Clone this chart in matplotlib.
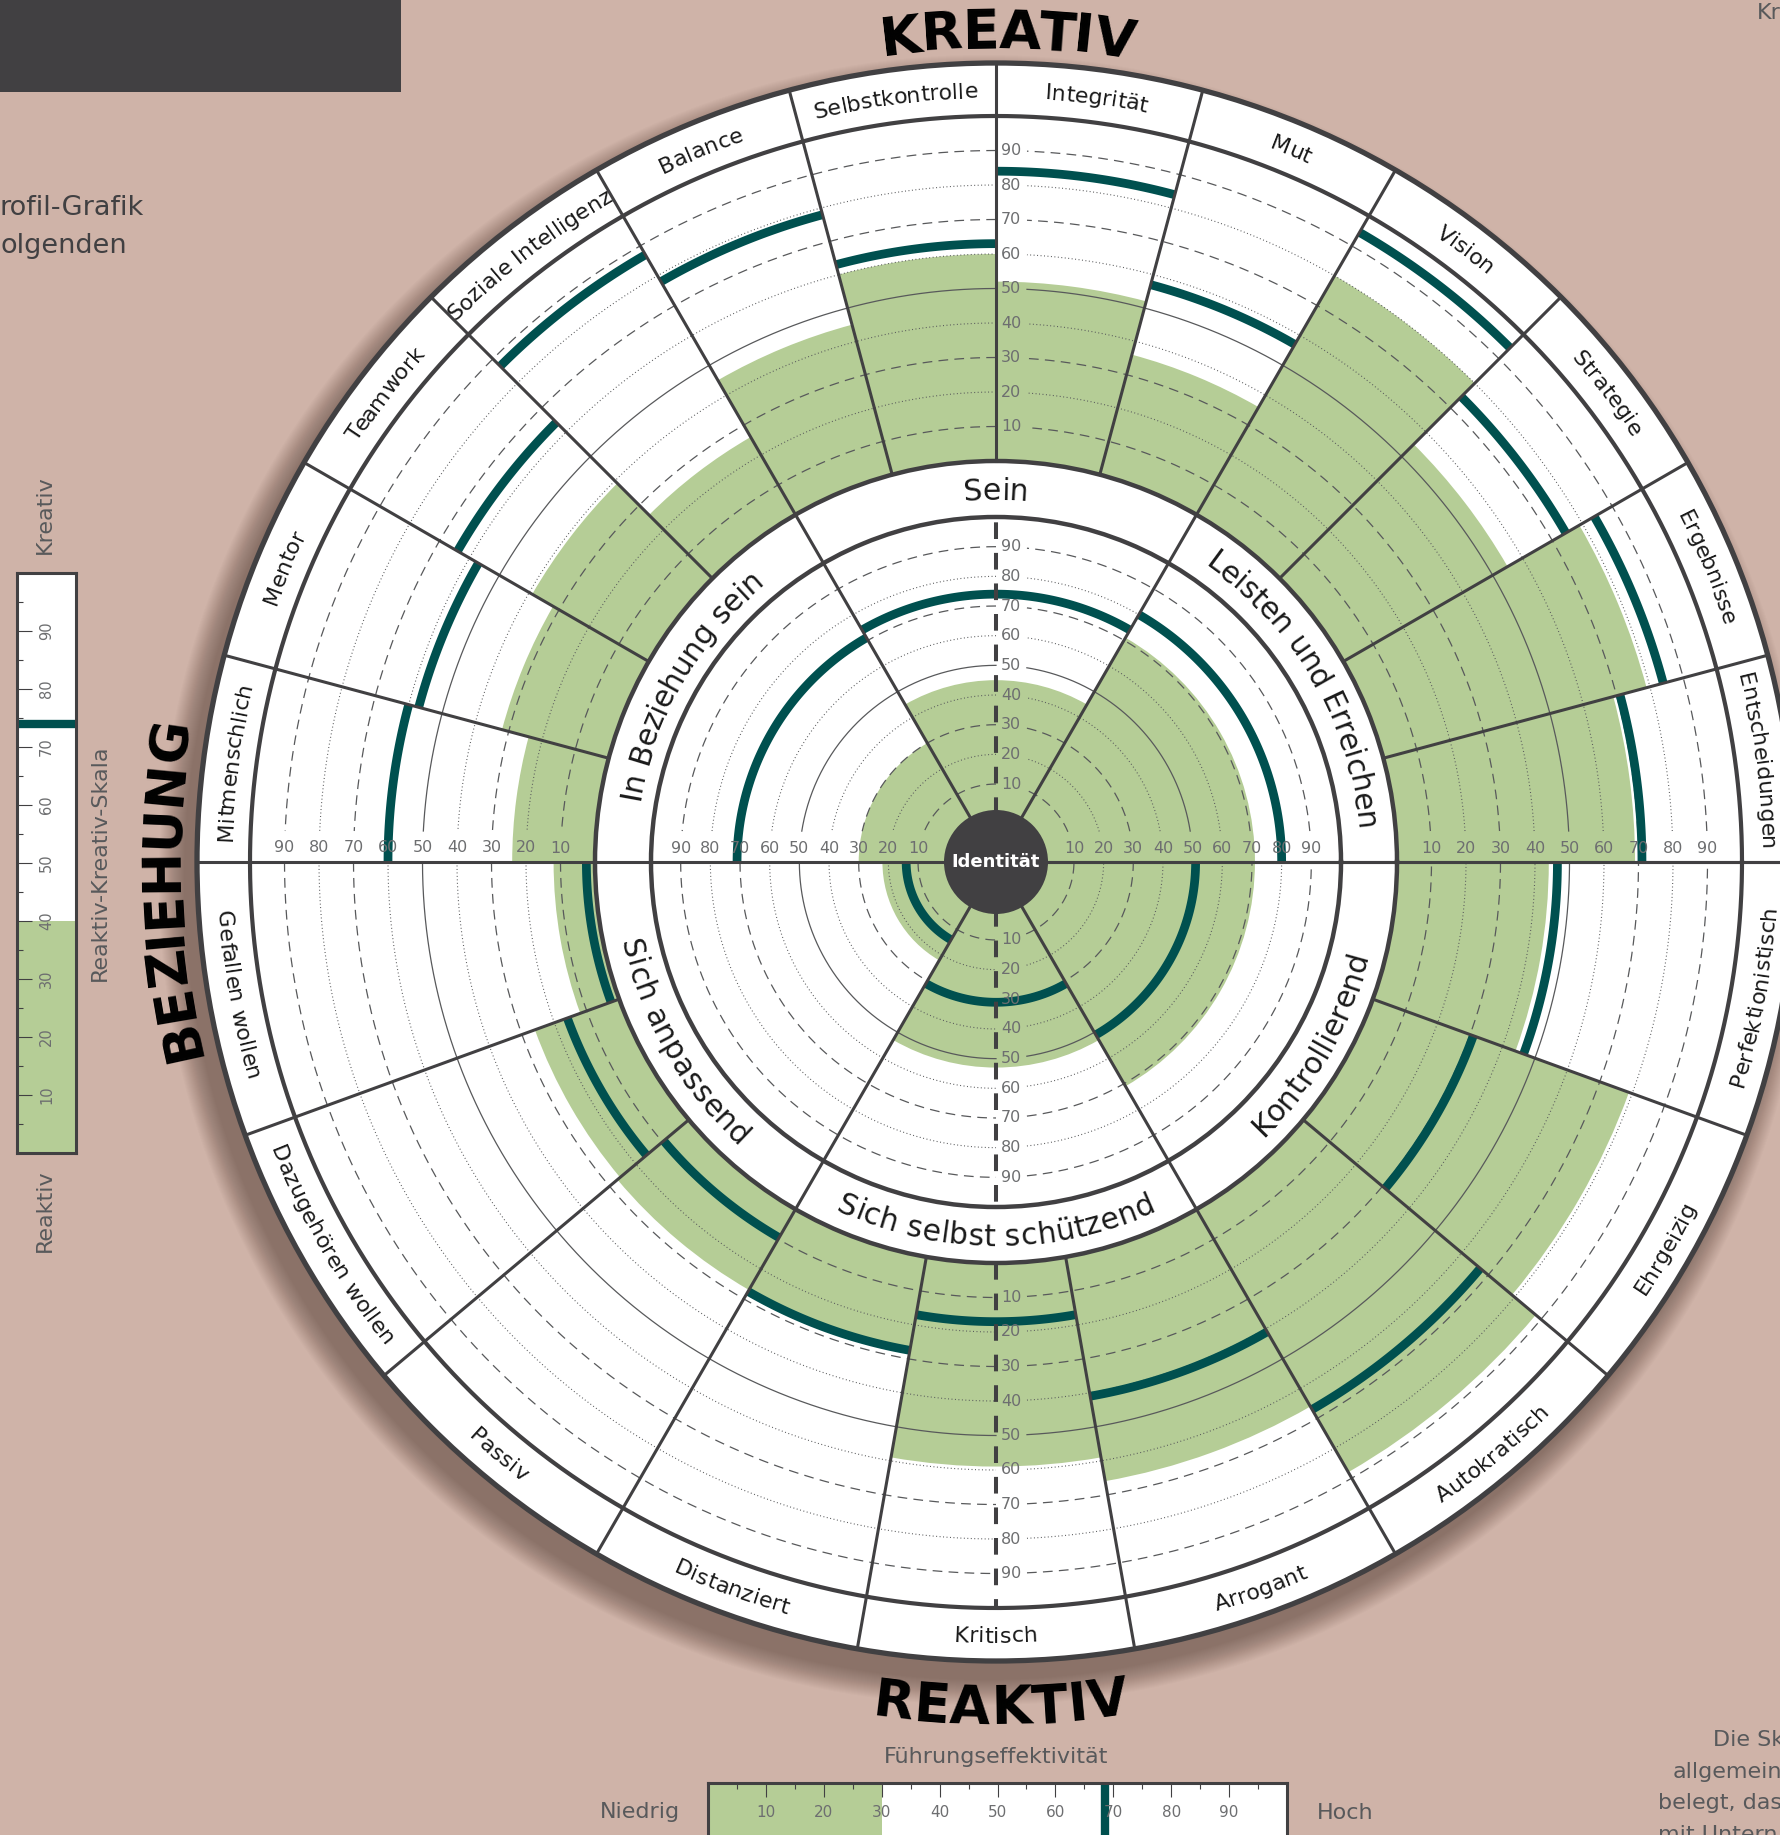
import numpy as np
import matplotlib
matplotlib.use('Agg')
import matplotlib.pyplot as plt
from matplotlib.patches import Circle, Rectangle
from matplotlib.font_manager import FontProperties
import matplotlib.transforms as mtrans

plt.rcParams['font.family'] = 'DejaVu Sans'
plt.rcParams['lines.scale_dashes'] = False

# ---------------- data ----------------
# outer ring, upper half (0..180 deg, counter-clockwise from the right)
top_labels = ['Entscheidungen', 'Ergebnisse', 'Strategie', 'Vision', 'Mut', 'Integrität',
              'Selbstkontrolle', 'Balance', 'Soziale Intelligenz', 'Teamwork', 'Mentor', 'Mitmenschlich']
top_score = [69, 79, 55, 80, 36, 52, 60, 45, 26, 39, 32, 24]
top_norm = [71, 84, 74.5, 94.5, 57, 84, 63, 78, 87, 64, 57, 60]

# outer ring, lower half (180..360 deg)
bot_labels = ['Gefallen wollen', 'Dazugehören wollen', 'Passiv', 'Distanziert', 'Kritisch',
              'Arrogant', 'Autokratisch', 'Ehrgeizig', 'Perfektionistisch']
bot_score = [12, 26, 27, 27, 59, 66, 88, 79, 44]
bot_norm = [2.5, 16, 9.5, 27.5, 17, 41, 67, 31, 46.5]

# inner circle (0..360 deg)
core_labels = ['Leisten und Erreichen', 'Sein', 'In Beziehung sein',
               'Sich anpassend', 'Sich selbst schützend', 'Kontrollierend']
core_score = [71, 45, 30, 22, 53, 71]
core_norm = [80, 74, 71, 14, 31, 51]

ticks = [10, 20, 30, 40, 50, 60, 70, 80, 90]
minor_ticks = [5, 15, 25, 35, 45, 55, 65, 75, 85, 95]

rk_value, rk_mark = 40, 74          # Reaktiv-Kreativ-Skala
fe_value, fe_mark = 30, 68.5        # Führungseffektivität

# ---------------- style ----------------
BG = '#cfb3a8'
GREEN = '#b5cd96'
TEAL = '#00504f'
DARK = '#414042'
INK = '#1a1a1a'
GREY = '#6d6e70'
GRID = '#58595b'

W, H = 1780, 1835
CX, CY = 996, H - 862
R_OUT, R_LAB, R_O0 = 799, 746, 401     # outer circle, label ring, outer data base
R_I100, R_I0, R_ID = 345, 48.3, 52      # inner data top, inner base, identity disc
PX_O = (R_LAB - R_O0) / 100.0
PX_I = (R_I100 - R_I0) / 100.0

fig = plt.figure(figsize=(W / 100, H / 100), dpi=100)
fig.patch.set_facecolor(BG)
renderer = fig.canvas.get_renderer()

# background: soft drop shadow (down-left) + white disc
axb = fig.add_axes([0, 0, 1, 1], zorder=0)
axb.set_xlim(0, W); axb.set_ylim(0, H); axb.axis('off')
for k in range(26):
    axb.add_patch(Circle((CX - 12, CY - 18), R_OUT + 26 - k, color='#3a2620', alpha=0.02, lw=0))
axb.add_patch(Circle((CX, CY), R_OUT, color='white', lw=0))
axb.add_patch(Rectangle((0, H - 92.5), 401, 92.5, color=DARK, lw=0))

# ---------------- outer ring (polar) ----------------
o_top = (R_OUT - R_O0) / PX_O
axo = fig.add_axes([(CX - R_OUT) / W, (CY - R_OUT) / H, 2 * R_OUT / W, 2 * R_OUT / H],
                   projection='polar', zorder=1)
axo.set_ylim(0, o_top)
axo.set_rorigin(-R_O0 / PX_O)

# inner ring (polar)
axi = fig.add_axes([(CX - R_I100) / W, (CY - R_I100) / H, 2 * R_I100 / W, 2 * R_I100 / H],
                   projection='polar', zorder=2)
axi.set_ylim(0, 100)
axi.set_rorigin(-R_I0 / PX_I)

for ax in (axo, axi):
    ax.set_facecolor('white')
    ax.set_xticks([]); ax.set_yticks([])
    ax.grid(False)
axo.spines['polar'].set(lw=3.8, color=DARK)
axo.spines['inner'].set(lw=3.2, color=DARK)
axi.spines['polar'].set(lw=3.2, color=DARK)
axi.spines['inner'].set(lw=0)

top_edges = np.linspace(0, 180, len(top_labels) + 1)
bot_edges = np.linspace(180, 360, len(bot_labels) + 1)
core_edges = np.linspace(0, 360, len(core_labels) + 1)


def fills(ax, edges, score, norm):
    e = np.radians(edges)
    ax.bar((e[:-1] + e[1:]) / 2, score, width=np.diff(e), bottom=0,
           color=GREEN, linewidth=0, zorder=1)
    for a, b, v in zip(e[:-1], e[1:], norm):
        t = np.linspace(a, b, 80)
        ax.plot(t, np.full(t.size, v), color=TEAL, lw=6.3, solid_capstyle='butt', zorder=4)


def ring_grid(ax, r0, per):
    for v in ticks:
        rpx = r0 + v * per
        d = np.degrees(31.0 / rpx)
        if v == 50:
            kw = dict(ls='-', lw=0.9, color=GRID)
        elif v % 20:
            kw = dict(ls=(0, (7, 4.5)), lw=0.9, color=GRID)
        else:
            kw = dict(ls=(0, (0.7, 1.8)), lw=0.8, color=GRID)
        for a, b in [(d, 90 - d), (90, 180 - d), (180, 270), (270 + d, 360)]:
            t = np.radians(np.linspace(a, b, 240))
            ax.plot(t, np.full(t.size, v), zorder=2, **kw)


def offset(ax, dx, dy):
    return mtrans.offset_copy(ax.transData, fig=fig, x=dx, y=dy, units='dots')


def tick_text(ax):
    for v in ticks:
        kw = dict(ha='center', va='center', fontsize=11.5, color=GREY, zorder=6)
        ax.text(np.pi / 2, v, str(v), transform=offset(ax, 15, 0), **kw)
        ax.text(3 * np.pi / 2, v, str(v), transform=offset(ax, 15, 0), **kw)
        ax.text(0, v, str(v), transform=offset(ax, 0, 14), **kw)
        ax.text(np.pi, v, str(v), transform=offset(ax, 0, 14), **kw)


fills(axo, top_edges, top_score, top_norm)
fills(axo, bot_edges, bot_score, bot_norm)
fills(axi, core_edges, core_score, core_norm)
ring_grid(axo, R_O0, PX_O)
ring_grid(axi, R_I0, PX_I)
tick_text(axo)
tick_text(axi)

# label ring boundary
tt = np.linspace(0, 2 * np.pi, 720)
axo.plot(tt, np.full(tt.size, 100), color=DARK, lw=3.0, zorder=5)

# sector boundaries
sein_in = (R_I100 - R_O0) / PX_O
for a in np.unique(np.concatenate([top_edges, bot_edges])):
    lo = sein_in if a % 60 == 0 else 0
    axo.plot([np.radians(a)] * 2, [lo, o_top], color=DARK, lw=2.2, zorder=5, clip_on=False)
for a in core_edges:
    axi.plot([np.radians(a)] * 2, [0, 100], color=DARK, lw=2.2, zorder=5)

# dashed centre axes
dash = dict(color=DARK, lw=2.9, ls=(0, (12, 10)), zorder=5)
axi.plot([np.pi / 2] * 2, [0, 100], **dash)
axi.plot([3 * np.pi / 2] * 2, [0, 100], **dash)
axo.plot([3 * np.pi / 2] * 2, [0, 100], **dash)

# ---------------- overlay text ----------------
axt = fig.add_axes([0, 0, 1, 1], zorder=3)
axt.set_xlim(0, W); axt.set_ylim(0, H); axt.axis('off')
axt.patch.set_alpha(0)


def tw(s, fp):
    t = axt.text(0, 0, s, fontproperties=fp)
    w = t.get_window_extent(renderer=renderer).width
    t.remove()
    return w


def arc_text(s, th_c, r, size, outward=True, weight='normal', color=INK):
    fp = FontProperties(family='DejaVu Sans', size=size, weight=weight)
    bar = tw('|', fp)
    pos = [0.0] + [tw(s[:i] + '|', fp) - bar for i in range(1, len(s) + 1)]
    total = pos[-1]
    cap = 0.73 * size * 100 / 72
    for i, ch in enumerate(s):
        if ch == ' ':
            continue
        off = (pos[i] + pos[i + 1]) / 2 - total / 2
        if outward:
            th = th_c - np.degrees(off / r); rb = r - cap / 2; rot = th - 90
        else:
            th = th_c + np.degrees(off / r); rb = r + cap / 2; rot = th + 90
        x = CX + rb * np.cos(np.radians(th))
        y = CY + rb * np.sin(np.radians(th))
        axt.text(x, y, ch, fontproperties=fp, color=color, rotation=rot,
                 rotation_mode='anchor', ha='center', va='baseline')


r_lab_mid = (R_LAB + R_OUT) / 2
for lab, a, b in zip(top_labels, top_edges[:-1], top_edges[1:]):
    arc_text(lab, (a + b) / 2, r_lab_mid, 16, outward=True)
for lab, a, b in zip(bot_labels, bot_edges[:-1], bot_edges[1:]):
    arc_text(lab, (a + b) / 2, r_lab_mid, 16, outward=False)

r_core_mid = (R_I100 + R_O0) / 2
for lab, a, b in zip(core_labels, core_edges[:-1], core_edges[1:]):
    c = (a + b) / 2
    arc_text(lab, c, r_core_mid, 21.5, outward=c < 180)

arc_text('KREATIV', 89.2, 834, 39, outward=True, weight='bold', color='black')
arc_text('REAKTIV', 270.3, 843, 38, outward=False, weight='bold', color='black')
arc_text('BEZIEHUNG', 181.9, 838, 38, outward=True, weight='bold', color='black')

axt.add_patch(Circle((CX, CY), R_ID, color=DARK, lw=0, zorder=5))
axt.text(CX, CY, 'Identität', color='white', fontsize=13, weight='bold',
         ha='center', va='center', zorder=6)

# side texts
SIDE = '#58595b'
axt.text(0, H - 208, 'rofil-Grafik', fontsize=19.5, color=DARK, va='center', ha='left')
axt.text(0, H - 246, 'olgenden', fontsize=19.5, color=DARK, va='center', ha='left')
axt.text(1757, H - 13, 'Kr', fontsize=16, color=SIDE, va='center', ha='left')
for s, x, y in [('Die Sk', 1713, 1740), ('allgemein', 1673, 1772),
                ('belegt, das', 1658, 1803), ('mit Untern', 1658, 1835)]:
    axt.text(x, H - y, s, fontsize=16, color=SIDE, va='center', ha='left')

axt.text(45, H - 515, 'Kreativ', rotation=90, fontsize=16, color=SIDE, ha='center', va='center')
axt.text(45, H - 1211, 'Reaktiv', rotation=90, fontsize=16, color=SIDE, ha='center', va='center')
axt.text(100, H - 863, 'Reaktiv-Kreativ-Skala', rotation=90, fontsize=16, color=SIDE,
         ha='center', va='center')
axt.text(CX, H - 1757, 'Führungseffektivität', fontsize=16, color=SIDE, ha='center', va='center')
axt.text(640, H - 1812, 'Niedrig', fontsize=16, color=SIDE, ha='center', va='center')
axt.text(1317, H - 1813, 'Hoch', fontsize=16, color=SIDE, ha='left', va='center')

# ---------------- legend bars ----------------
axl = fig.add_axes([17 / W, 682 / H, 59 / W, 580 / H], zorder=5)
axl.set_xlim(0, 1); axl.set_ylim(0, 100)
axl.set_facecolor('white')
axl.bar(0.5, rk_value, width=1, color=GREEN, lw=0)
axl.axhline(rk_mark, color=TEAL, lw=6)
axl.set_xticks([])
axl.set_yticks(ticks); axl.set_yticks(minor_ticks, minor=True)
axl.tick_params(axis='y', which='major', direction='in', length=11, width=0.8,
                color=DARK, labelleft=False)
axl.tick_params(axis='y', which='minor', direction='in', length=4.5, width=0.8, color=DARK)
for v in ticks:
    axl.text(0.5, v, str(v), rotation=90, ha='center', va='center', fontsize=10.5, color=GREY)

axh = fig.add_axes([708 / W, -7 / H, 579 / W, 59 / H], zorder=5)
axh.set_xlim(0, 100); axh.set_ylim(0, 1)
axh.set_facecolor('white')
axh.barh(0.5, fe_value, height=1, color=GREEN, lw=0)
axh.axvline(fe_mark, color=TEAL, lw=6)
axh.set_yticks([])
axh.set_xticks(ticks); axh.set_xticks(minor_ticks, minor=True)
axh.tick_params(axis='x', which='major', direction='in', length=10, width=0.8, color=DARK,
                top=True, bottom=False, labelbottom=False)
axh.tick_params(axis='x', which='minor', direction='in', length=4.5, width=0.8, color=DARK,
                top=True, bottom=False)
for v in ticks:
    axh.text(v, 0.5, str(v), ha='center', va='center', fontsize=11, color=GREY)

for a in (axl, axh):
    for s in a.spines.values():
        s.set_color(DARK); s.set_linewidth(2.2)

fig.savefig('out.png', dpi=100, facecolor=BG)
